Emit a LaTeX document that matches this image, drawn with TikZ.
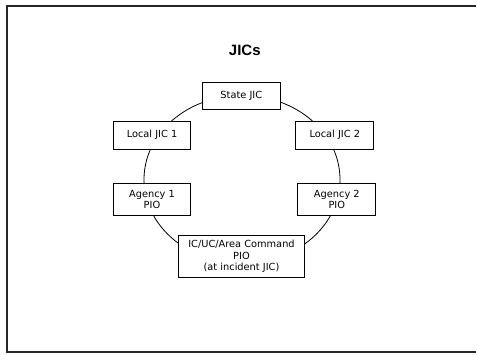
\documentclass[tikz,border=0pt]{standalone}
\usepackage{fontspec}
\setmainfont{DejaVu Sans}
\newfontfamily\headfont{Liberation Sans}
\begin{document}
\begin{tikzpicture}[x=1pt,y=-1pt,
    jicbox/.style={draw,fill=white,line width=0.8pt,align=center,inner sep=0pt,
      font=\fontsize{9.8}{11.3}\selectfont}]
  \useasboundingbox (0,0) rectangle (477,354);
  % slide frame, open on the right
  \draw[line width=2pt,color=black!85] (476,5.5) -- (7,5.5) -- (7,352.3) -- (476,352.3);
  \node[font=\headfont\bfseries\fontsize{15}{18}\selectfont] (title) at (244.8,50.3) {JICs};
  % ring behind the boxes
  \draw[line width=0.8pt] (242,179.4) ellipse [x radius=98, y radius=84];

  \node[jicbox,minimum width=78,minimum height=27] (state) at (241.3,95.7) {State JIC};
  \node[jicbox,minimum width=77,minimum height=28] (local1) at (152,135) {Local JIC 1};
  \node[jicbox,minimum width=78,minimum height=28] (local2) at (334.8,135) {Local JIC 2};
  \node[jicbox,minimum width=77,minimum height=32] (agency1) at (152,199.5) {Agency 1\\PIO};
  \node[jicbox,minimum width=78,minimum height=32] (agency2) at (336.8,199.5) {Agency 2\\PIO};
  \node[jicbox,minimum width=126,minimum height=42] (command) at (241.5,256.5)
    {IC/UC/Area Command\\PIO\\(at incident JIC)};
\end{tikzpicture}
\end{document}
